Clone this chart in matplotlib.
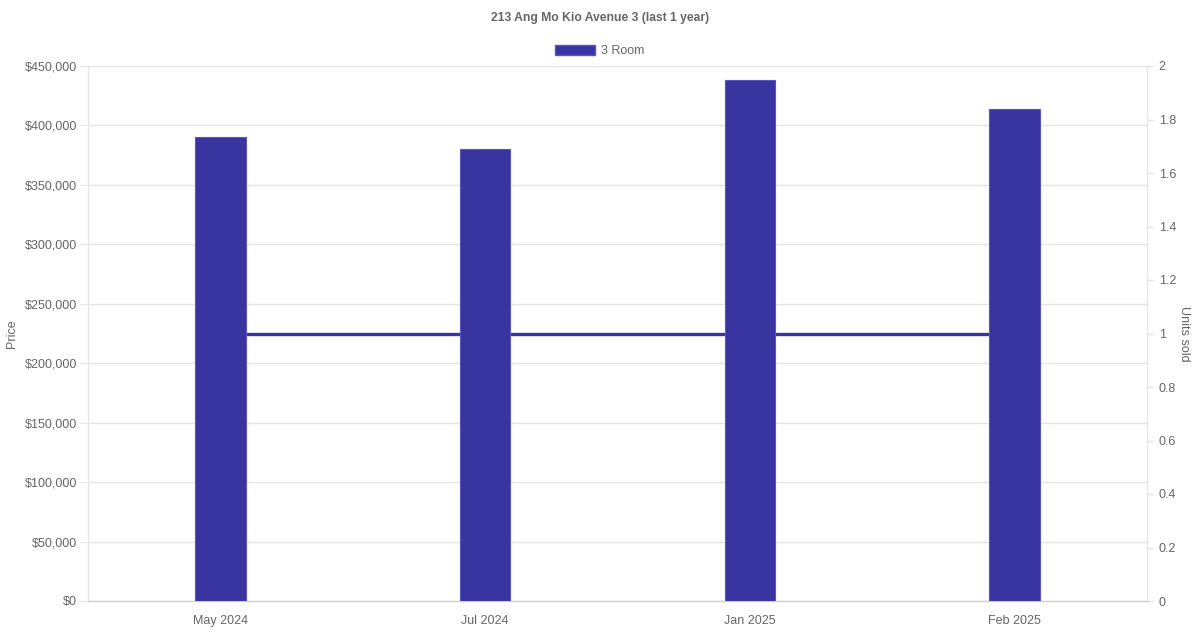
import matplotlib
matplotlib.use("Agg")
import matplotlib.pyplot as plt
from matplotlib.ticker import FuncFormatter

plt.rcParams['font.family'] = ['Liberation Sans', 'DejaVu Sans']

# data
months = ["May 2024", "Jul 2024", "Jan 2025", "Feb 2025"]
price = [390000, 380000, 438000, 414000]
units = [1, 1, 1, 1]

bar_color = "#3834a0"
text_color = "#666666"
grid_color = "#e5e5e5"
fs = 9

fig = plt.figure(figsize=(12, 6.3), dpi=100)
ax = fig.add_axes([88 / 1200, 29 / 630, (1147 - 88) / 1200, (601 - 66) / 630])
ax2 = ax.twinx()

x = list(range(len(months)))

# line sits behind the bars
ax2.plot(x, units, color=bar_color, linewidth=2.4, zorder=1)
ax2.set_ylim(0, 2)
ax2.set_yticks([i / 5 for i in range(11)])
ax2.yaxis.set_major_formatter(FuncFormatter(lambda v, p: f"{v:g}"))
ax2.set_ylabel("Units sold", rotation=270, labelpad=10, color=text_color, fontsize=fs)
ax2.tick_params(axis="y", colors=text_color, labelcolor=text_color, labelsize=fs,
                length=4.5, width=1, pad=4)
ax2.tick_params(axis="y", color=grid_color)

ax.set_zorder(ax2.get_zorder() + 1)
ax.patch.set_visible(False)
ax.bar(x, price, width=0.19, color=bar_color, edgecolor="#5a56c0", linewidth=0.8,
       label="3 Room", zorder=3)
ax.set_xlim(-0.5, len(months) - 0.5)
ax.set_ylim(0, 450000)
ax.set_yticks(range(0, 450001, 50000))
ax.yaxis.set_major_formatter(FuncFormatter(lambda v, p: f"${int(v):,}"))
ax.set_xticks(x)
ax.set_xticklabels(months)
ax.grid(axis="y", color=grid_color, linewidth=1, zorder=0)
ax.set_axisbelow(True)
ax.tick_params(axis="y", colors=text_color, labelcolor=text_color, labelsize=fs,
               length=6, pad=2)
ax.tick_params(axis="y", color=grid_color)
ax.tick_params(axis="x", labelcolor=text_color, labelsize=fs, length=0, pad=10)
ax.set_ylabel("Price", color=text_color, fontsize=fs, labelpad=5)

for a in (ax, ax2):
    a.spines["top"].set_visible(False)
    a.spines["left"].set_color(grid_color)
    a.spines["right"].set_color(grid_color)
    a.spines["bottom"].set_color("#cccccc")

# legend and title
handle = plt.Rectangle((0, 0), 1, 1, facecolor=bar_color, edgecolor="#5a56c0")
fig.legend([handle], ["3 Room"], loc="center", bbox_to_anchor=(0.5, 1 - 51 / 630),
           frameon=False, fontsize=fs, labelcolor=text_color, handlelength=3.2,
           handleheight=0.95, handletextpad=0.5)
fig.text(0.5, 1 - 18 / 630, "213 Ang Mo Kio Avenue 3 (last 1 year)", ha="center",
         va="center", fontsize=8.7, fontweight="bold", color=text_color)

fig.savefig("out.png", dpi=100)
